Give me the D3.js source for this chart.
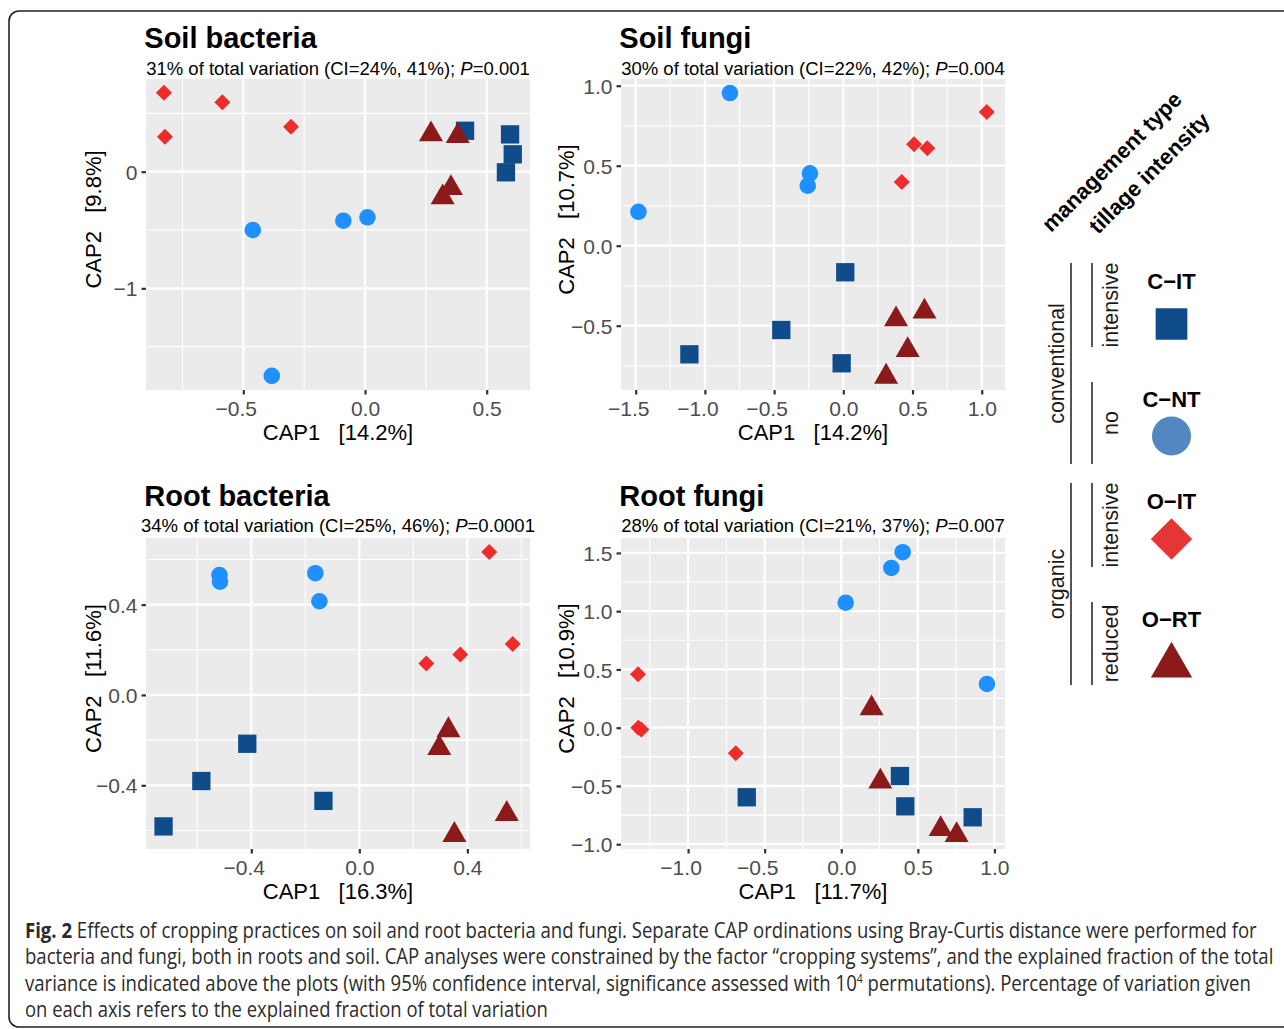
<!DOCTYPE html>
<html>
<head>
<meta charset="utf-8">
<script src="https://cdn.jsdelivr.net/npm/d3@7"></script>
<style>
  body { margin: 0; background: #fff; }
  svg text { font-family: "Liberation Sans", Arial, Helvetica, sans-serif; }
</style>
</head>
<body>
<div id="fig"></div>
<script>
// groups in the order ggplot draws them (triangles end up on top)
const groups = ["C-IT", "C-NT", "O-IT", "O-RT"];
const pointColors = { "C-IT": "#104C8A", "C-NT": "#1E90FF", "O-IT": "#EE2C2C", "O-RT": "#8B1A1A" };
const legendColors = ["#104C8A", "#5387C1", "#E63535", "#8B1A1A"];
const legendLabels = ["C\u2212IT", "C\u2212NT", "O\u2212IT", "O\u2212RT"];
const managementLabels = ["conventional", "organic"];
const tillageLabels = ["intensive", "no", "intensive", "reduced"];

const panelTitles = ["Soil bacteria", "Soil fungi", "Root bacteria", "Root fungi"];
// [explained, CI low, CI high, P]
const panelStats = [
  ["31%", "24%", "41%", "0.001"],
  ["30%", "22%", "42%", "0.004"],
  ["34%", "25%", "46%", "0.0001"],
  ["28%", "21%", "37%", "0.007"]
];
const xAxisPct = ["14.2%", "14.2%", "16.3%", "11.7%"];
const yAxisPct = ["9.8%", "10.7%", "11.6%", "10.9%"];

const xDomains = [[-0.8998, 0.6779], [-1.606, 1.168], [-0.790, 0.632], [-1.438, 1.069]];
const yDomains = [[-1.872, 0.795], [-0.902, 1.042], [-0.682, 0.695], [-1.041, 1.628]];
const xTicks = [[-0.5, 0, 0.5], [-1.5, -1, -0.5, 0, 0.5, 1], [-0.4, 0, 0.4], [-1, -0.5, 0, 0.5, 1]];
const xMinor = [[-0.75, -0.25, 0.25], [-1.25, -0.75, -0.25, 0.25, 0.75], [-0.6, -0.2, 0.2, 0.6], [-1.25, -0.75, -0.25, 0.25, 0.75]];
const yTicks = [[0, -1], [1, 0.5, 0, -0.5], [0.4, 0, -0.4], [1.5, 1, 0.5, 0, -0.5, -1]];
const yMinor = [[0.5, -0.5, -1.5], [0.75, 0.25, -0.25, -0.75], [0.6, 0.2, -0.2, -0.6], [1.25, 0.75, 0.25, -0.25, -0.75]];
const xTickFormat = [".1f", ".1f", ".1f", ".1f"];
const yTickFormat = ["d", ".1f", ".1f", ".1f"];

// [group, CAP1, CAP2]
const soilBacteria = [
  ["C-IT", 0.411, 0.351], ["C-IT", 0.596, 0.320], ["C-IT", 0.607, 0.149], ["C-IT", 0.579, -0.005],
  ["C-NT", -0.461, -0.500], ["C-NT", -0.089, -0.420], ["C-NT", 0.010, -0.391], ["C-NT", -0.383, -1.751],
  ["O-IT", -0.826, 0.677], ["O-IT", -0.586, 0.595], ["O-IT", -0.822, 0.300], ["O-IT", -0.304, 0.386],
  ["O-RT", 0.271, 0.320], ["O-RT", 0.381, 0.305], ["O-RT", 0.353, -0.140], ["O-RT", 0.319, -0.220]
];
const soilFungi = [
  ["C-IT", 0.014, -0.166], ["C-IT", -0.448, -0.527], ["C-IT", -1.112, -0.679], ["C-IT", -0.012, -0.735],
  ["C-NT", -0.819, 0.954], ["C-NT", -0.241, 0.452], ["C-NT", -0.257, 0.375], ["C-NT", -1.480, 0.212],
  ["O-IT", 1.036, 0.836], ["O-IT", 0.511, 0.634], ["O-IT", 0.607, 0.609], ["O-IT", 0.422, 0.398],
  ["O-RT", 0.381, -0.460], ["O-RT", 0.586, -0.412], ["O-RT", 0.465, -0.652], ["O-RT", 0.309, -0.819]
];
const rootBacteria = [
  ["C-IT", -0.415, -0.216], ["C-IT", -0.585, -0.381], ["C-IT", -0.133, -0.469], ["C-IT", -0.725, -0.582],
  ["C-NT", -0.518, 0.531], ["C-NT", -0.516, 0.502], ["C-NT", -0.163, 0.539], ["C-NT", -0.148, 0.415],
  ["O-IT", 0.481, 0.633], ["O-IT", 0.568, 0.226], ["O-IT", 0.374, 0.179], ["O-IT", 0.248, 0.139],
  ["O-RT", 0.330, -0.156], ["O-RT", 0.296, -0.235], ["O-RT", 0.546, -0.527], ["O-RT", 0.352, -0.620]
];
const rootFungi = [
  ["C-IT", 0.383, -0.415], ["C-IT", 0.418, -0.675], ["C-IT", 0.858, -0.769], ["C-IT", -0.617, -0.597],
  ["C-NT", 0.401, 1.506], ["C-NT", 0.327, 1.371], ["C-NT", 0.029, 1.073], ["C-NT", 0.951, 0.375],
  ["O-IT", -1.327, 0.458], ["O-IT", -1.325, 0.000], ["O-IT", -1.305, -0.015], ["O-IT", -0.689, -0.220],
  ["O-RT", 0.198, 0.166], ["O-RT", 0.255, -0.463], ["O-RT", 0.649, -0.870], ["O-RT", 0.753, -0.921]
];
const panelData = [soilBacteria, soilFungi, rootBacteria, rootFungi];

const captionLines = [
  "Effects of cropping practices on soil and root bacteria and fungi. Separate CAP ordinations using Bray-Curtis distance were performed for",
  "bacteria and fungi, both in roots and soil. CAP analyses were constrained by the factor \u201ccropping systems\u201d, and the explained fraction of the total",
  "variance is indicated above the plots (with 95% confidence interval, significance assessed with 10",
  "on each axis refers to the explained fraction of total variation"
];
const captionLine3Tail = " permutations). Percentage of variation given";

const W = 1284, H = 1029;
const svg = d3.select("#fig").append("svg")
    .attr("width", W)
    .attr("height", H);

// frame of the figure page
svg.append("rect")
    .attr("x", 9).attr("y", 11)
    .attr("width", 1320).attr("height", 1016)
    .attr("rx", 10)
    .attr("fill", "none")
    .attr("stroke", "#222")
    .attr("stroke-width", 1.6);

// panel boxes (pixel layout)
const boxes = [
  { x0: 146, x1: 530, y0: 79, y1: 390, titleY: 48, subY: 74.5, yTitleOff: 45 },
  { x0: 621, x1: 1005, y0: 79, y1: 390, titleY: 47.5, subY: 74.5, yTitleOff: 47 },
  { x0: 146, x1: 530, y0: 538, y1: 849, titleY: 505.5, subY: 531.5, yTitleOff: 45 },
  { x0: 621, x1: 1005, y0: 538, y1: 849, titleY: 505.5, subY: 531.5, yTitleOff: 47 }
];

const symbols = {
  "C-IT": { type: d3.symbolSquare, size: 335, rot: 0 },
  "C-NT": { type: d3.symbolCircle, size: 216, rot: 0 },
  "O-IT": { type: d3.symbolSquare, size: 128, rot: 45 },
  "O-RT": { type: d3.symbolTriangle, size: 250, rot: 0 }
};

function drawPanel(i) {
  const b = boxes[i];
  const x = d3.scaleLinear().domain(xDomains[i]).range([b.x0, b.x1]);
  const y = d3.scaleLinear().domain(yDomains[i]).range([b.y1, b.y0]);
  const g = svg.append("g");

  // background + grid
  g.append("rect")
      .attr("x", b.x0).attr("y", b.y0)
      .attr("width", b.x1 - b.x0).attr("height", b.y1 - b.y0)
      .attr("fill", "#EBEBEB");

  g.selectAll("line.vminor").data(xMinor[i]).enter().append("line")
      .attr("x1", d => x(d)).attr("x2", d => x(d))
      .attr("y1", b.y0).attr("y2", b.y1)
      .attr("stroke", "#fff").attr("stroke-width", 1.1);
  g.selectAll("line.hminor").data(yMinor[i]).enter().append("line")
      .attr("y1", d => y(d)).attr("y2", d => y(d))
      .attr("x1", b.x0).attr("x2", b.x1)
      .attr("stroke", "#fff").attr("stroke-width", 1.1);
  g.selectAll("line.vmajor").data(xTicks[i]).enter().append("line")
      .attr("x1", d => x(d)).attr("x2", d => x(d))
      .attr("y1", b.y0).attr("y2", b.y1)
      .attr("stroke", "#fff").attr("stroke-width", 2.2);
  g.selectAll("line.hmajor").data(yTicks[i]).enter().append("line")
      .attr("y1", d => y(d)).attr("y2", d => y(d))
      .attr("x1", b.x0).attr("x2", b.x1)
      .attr("stroke", "#fff").attr("stroke-width", 2.2);

  // axes
  const xAxis = g.append("g")
      .attr("transform", `translate(0,${b.y1})`)
      .call(d3.axisBottom(x).tickValues(xTicks[i]).tickFormat(d3.format(xTickFormat[i]))
        .tickSize(4.5).tickPadding(8));
  xAxis.select(".domain").remove();
  xAxis.selectAll(".tick line").attr("stroke", "#333").attr("stroke-width", 2.2);
  // negative labels sit a little left of their tick in the original
  xAxis.selectAll(".tick text")
      .attr("fill", "#4D4D4D")
      .style("font-size", "21px")
      .attr("dy", null)
      .attr("y", 25.8)
      .attr("x", d => d < 0 ? -7.5 : 0);

  const yAxis = g.append("g")
      .attr("transform", `translate(${b.x0},0)`)
      .call(d3.axisLeft(y).tickValues(yTicks[i]).tickFormat(d3.format(yTickFormat[i]))
        .tickSize(4.5).tickPadding(4));
  yAxis.select(".domain").remove();
  yAxis.selectAll(".tick line").attr("stroke", "#333").attr("stroke-width", 2.2);
  yAxis.selectAll(".tick text")
      .attr("fill", "#4D4D4D")
      .style("font-size", "21px")
      .attr("dy", "0.36em");

  // axis titles
  g.append("text")
      .attr("x", (b.x0 + b.x1) / 2).attr("y", b.y1 + 50)
      .attr("text-anchor", "middle")
      .style("font-size", "22px").style("white-space", "pre")
      .attr("fill", "#000")
      .text(`CAP1   [${xAxisPct[i]}]`);
  g.append("text")
      .attr("transform", `translate(${b.x0 - b.yTitleOff},${(b.y0 + b.y1) / 2 - 15}) rotate(-90)`)
      .attr("text-anchor", "middle")
      .style("font-size", "22px").style("white-space", "pre")
      .attr("fill", "#000")
      .text(`CAP2   [${yAxisPct[i]}]`);

  // title + subtitle
  g.append("text")
      .attr("x", b.x0 - 1.7).attr("y", b.titleY)
      .style("font-size", "29px").style("font-weight", "bold")
      .text(panelTitles[i]);
  const s = panelStats[i];
  const sub = g.append("text")
      .attr("x", (b.x0 + b.x1) / 2).attr("y", b.subY)
      .attr("text-anchor", "middle")
      .style("font-size", "18.5px");
  sub.append("tspan").text(`${s[0]} of total variation (CI=${s[1]}, ${s[2]}); `);
  sub.append("tspan").style("font-style", "italic").text("P");
  sub.append("tspan").text(`=${s[3]}`);

  // points
  const rows = panelData[i].slice().sort((a, c) => groups.indexOf(a[0]) - groups.indexOf(c[0]));
  g.selectAll("path.pt").data(rows).enter().append("path")
      .attr("class", "pt")
      .attr("d", d => d3.symbol().type(symbols[d[0]].type).size(symbols[d[0]].size)())
      .attr("transform", d => `translate(${x(d[1])},${y(d[2])}) rotate(${symbols[d[0]].rot})`)
      .attr("fill", d => pointColors[d[0]]);
}

function drawLegend() {
  const g = svg.append("g");
  g.append("text")
      .attr("transform", "translate(1051,233) rotate(-45)")
      .style("font-size", "22px").style("font-weight", "bold")
      .text("management type");
  g.append("text")
      .attr("transform", "translate(1098,235) rotate(-45)")
      .style("font-size", "22px").style("font-weight", "bold")
      .text("tillage intensity");

  const mgmtSpans = [[263, 464], [483, 685]];
  const tillSpans = [[263, 347], [382, 464], [483, 567], [602, 685]];
  const lineStyle = sel => sel.attr("stroke", "#555").attr("stroke-width", 2);

  mgmtSpans.forEach((sp, k) => {
    g.append("line").attr("x1", 1071).attr("x2", 1071).attr("y1", sp[0]).attr("y2", sp[1]).call(lineStyle);
    g.append("text")
        .attr("transform", `translate(1064,${(sp[0] + sp[1]) / 2}) rotate(-90)`)
        .attr("text-anchor", "middle")
        .style("font-size", "21.5px").attr("fill", "#1a1a1a")
        .text(managementLabels[k]);
  });
  tillSpans.forEach((sp, k) => {
    g.append("line").attr("x1", 1092).attr("x2", 1092).attr("y1", sp[0]).attr("y2", sp[1]).call(lineStyle);
    g.append("text")
        .attr("transform", `translate(1118,${(sp[0] + sp[1]) / 2}) rotate(-90)`)
        .attr("text-anchor", "middle")
        .style("font-size", "21.5px").attr("fill", "#1a1a1a")
        .text(tillageLabels[k]);
  });

  const labelY = [289.3, 407.3, 509.3, 627.3];
  const keyY = [324, 436, 539, 665.7];
  const keySym = [
    { type: d3.symbolSquare, size: 1005, rot: 0 },
    { type: d3.symbolCircle, size: 1195, rot: 0 },
    { type: d3.symbolSquare, size: 857, rot: 45 },
    { type: d3.symbolTriangle, size: 738, rot: 0 }
  ];
  legendLabels.forEach((lab, k) => {
    g.append("text")
        .attr("x", 1171.5).attr("y", labelY[k])
        .attr("text-anchor", "middle")
        .style("font-size", "22px").style("font-weight", "bold")
        .text(lab);
    g.append("path")
        .attr("d", d3.symbol().type(keySym[k].type).size(keySym[k].size)())
        .attr("transform", `translate(1171.5,${keyY[k]}) rotate(${keySym[k].rot})`)
        .attr("fill", legendColors[k]);
  });
}

function drawCaption() {
  const baseY = [937.5, 964, 990.5, 1017];
  const lengths = [1233, 1249, 1227, 523];
  const font = "'Open Sans', 'Liberation Sans', sans-serif";

  captionLines.forEach((line, k) => {
    const t = svg.append("text")
        .attr("x", 0).attr("y", 0)
        .style("font-family", font)
        .style("font-size", "21px")
        .attr("fill", "#2b2b2b");
    if (k === 0) {
      t.append("tspan").style("font-weight", "bold").text("Fig. 2");
      t.append("tspan").text(" " + line);
    } else if (k === 2) {
      t.append("tspan").text(line);
      t.append("tspan").attr("dy", -8).style("font-size", "12px").text("4");
      t.append("tspan").attr("dy", 8).text(captionLine3Tail);
    } else {
      t.text(line);
    }
    // squeeze the line horizontally to the condensed width of the original
    const natural = t.node().getComputedTextLength();
    t.attr("transform", `translate(25,${baseY[k]}) scale(${lengths[k] / natural},1)`);
  });
}

[0, 1, 2, 3].forEach(drawPanel);
drawLegend();
drawCaption();
</script>
</body>
</html>
